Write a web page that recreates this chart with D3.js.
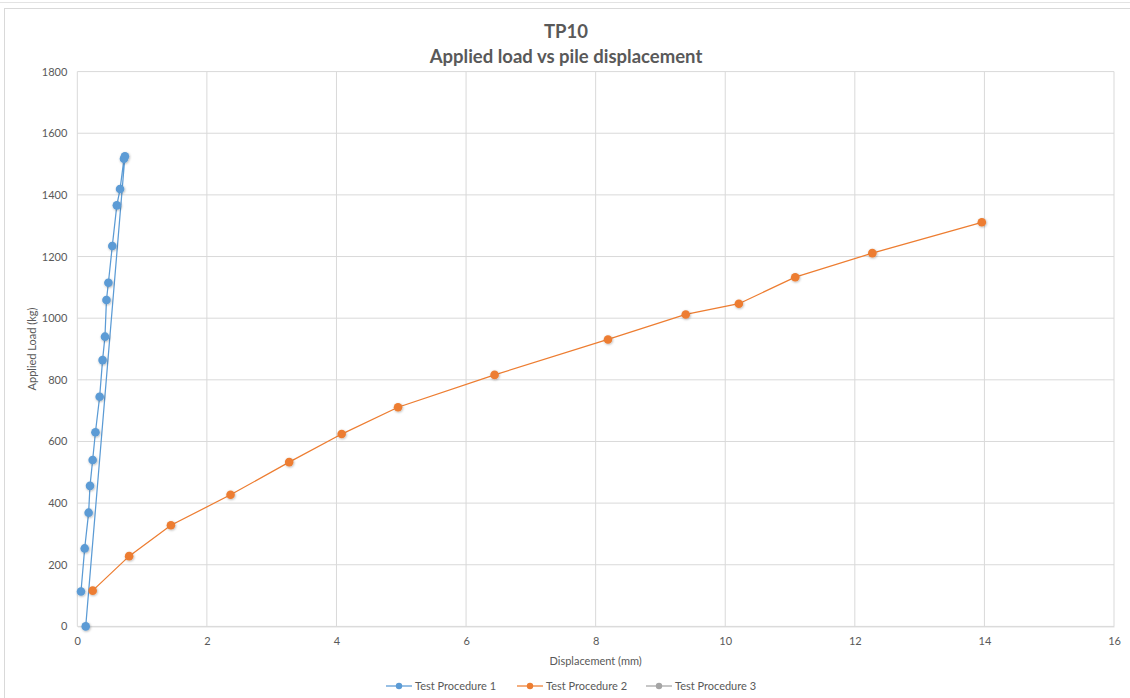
<!DOCTYPE html>
<html>
<head>
<meta charset="utf-8">
<script src="https://cdn.jsdelivr.net/npm/d3@7"></script>
<style>
  html, body { margin: 0; padding: 0; background: #fff; }
  svg { display: block; font-family: Lato, "Open Sans", sans-serif; }
</style>
</head>
<body>
<svg id="chart" width="1130" height="698"></svg>
<script>
// Test Procedure 1: loading then unloading back to zero
const tp1Disp = [0.057, 0.114, 0.175, 0.196, 0.237, 0.28, 0.345, 0.39, 0.427, 0.45, 0.48, 0.54, 0.61, 0.66, 0.72, 0.735, 0.13];
const tp1Load = [113, 253, 369, 456, 540, 630, 745, 864, 940, 1059, 1115, 1234, 1366, 1419, 1517, 1525, 0];

// Test Procedure 2
const tp2Disp = [0.237, 0.80, 1.445, 2.365, 3.27, 4.08, 4.95, 6.44, 8.19, 9.39, 10.21, 11.08, 12.27, 13.96];
const tp2Load = [116, 228, 328, 427, 533, 624, 711, 816, 931, 1012, 1047, 1133, 1211, 1311];

// Test Procedure 3 (no readings)
const tp3Disp = [];
const tp3Load = [];

const seriesNames = ["Test Procedure 1", "Test Procedure 2", "Test Procedure 3"];
const seriesColors = ["#5B9BD5", "#ED7D31", "#A5A5A5"];
const xTicks = [0, 2, 4, 6, 8, 10, 12, 14, 16];
const yTicks = [0, 200, 400, 600, 800, 1000, 1200, 1400, 1600, 1800];

const series = [
  { name: seriesNames[0], color: seriesColors[0], pts: tp1Disp.map((d, i) => [d, tp1Load[i]]) },
  { name: seriesNames[1], color: seriesColors[1], pts: tp2Disp.map((d, i) => [d, tp2Load[i]]) },
  { name: seriesNames[2], color: seriesColors[2], pts: tp3Disp.map((d, i) => [d, tp3Load[i]]) }
];

const svg = d3.select("#chart");
const textColor = "#595959";
const gridColor = "#d9d9d9";

// soft shadow under markers
const defs = svg.append("defs");
const f = defs.append("filter").attr("id", "shadow")
  .attr("x", "-50%").attr("y", "-50%").attr("width", "200%").attr("height", "200%");
f.append("feDropShadow").attr("dx", 0.6).attr("dy", 0.8)
  .attr("stdDeviation", 0.8).attr("flood-color", "#000").attr("flood-opacity", 0.3);

// outer frame
svg.append("line").attr("x1", 0).attr("x2", 1130).attr("y1", 2.5).attr("y2", 2.5)
  .attr("stroke", "#e3e3e3").attr("stroke-width", 1);
svg.append("rect").attr("x", 4.5).attr("y", 8.5).attr("width", 1130).attr("height", 700)
  .attr("fill", "#fff").attr("stroke", "#d9d9d9").attr("stroke-width", 1);

const plot = { left: 77.3, right: 1114, top: 71.6, bottom: 626.4 };
const x = d3.scaleLinear().domain([0, 16]).range([plot.left, plot.right]);
const y = d3.scaleLinear().domain([0, 1800]).range([plot.bottom, plot.top]);

// gridlines
svg.append("g").selectAll("line.h").data(yTicks).join("line")
  .attr("x1", plot.left).attr("x2", plot.right)
  .attr("y1", d => y(d)).attr("y2", d => y(d))
  .attr("stroke", gridColor).attr("stroke-width", 1);
svg.append("g").selectAll("line.v").data(xTicks).join("line")
  .attr("x1", d => x(d)).attr("x2", d => x(d))
  .attr("y1", plot.top).attr("y2", plot.bottom)
  .attr("stroke", gridColor).attr("stroke-width", 1);

// axes (labels only; lines drawn by the grid)
const xAxis = d3.axisBottom(x).tickValues(xTicks).tickSize(0).tickPadding(11).tickFormat(d3.format("d"));
const gx = svg.append("g").attr("transform", `translate(0,${plot.bottom})`).call(xAxis);
gx.select(".domain").attr("stroke", gridColor);
gx.selectAll("text").attr("fill", textColor).style("font-size", "11px").style("font-family", "Lato, sans-serif");

const yAxis = d3.axisLeft(y).tickValues(yTicks).tickSize(0).tickPadding(10).tickFormat(d3.format("d"));
const gy = svg.append("g").attr("transform", `translate(${plot.left},0)`).call(yAxis);
gy.select(".domain").remove();
gy.selectAll("text").attr("fill", textColor).style("font-size", "11px").style("font-family", "Lato, sans-serif");

// titles
svg.append("text").attr("x", 566).attr("y", 38).attr("text-anchor", "middle")
  .attr("fill", textColor).style("font-size", "18.5px").style("font-weight", "bold").text("TP10");
svg.append("text").attr("x", 566).attr("y", 63).attr("text-anchor", "middle")
  .attr("fill", textColor).style("font-size", "18.5px").style("font-weight", "bold")
  .text("Applied load vs pile displacement");

svg.append("text").attr("x", (plot.left + plot.right) / 2).attr("y", 665).attr("text-anchor", "middle")
  .attr("fill", textColor).style("font-size", "11px").text("Displacement (mm)");
svg.append("text").attr("transform", `translate(36,${(plot.top + plot.bottom) / 2}) rotate(-90)`)
  .attr("text-anchor", "middle").attr("fill", textColor).style("font-size", "11px")
  .text("Applied Load (kg)");

// series lines and markers
const line = d3.line().x(d => x(d[0])).y(d => y(d[1]));
series.forEach(s => {
  if (!s.pts.length) return;
  svg.append("path").datum(s.pts).attr("d", line)
    .attr("fill", "none").attr("stroke", s.color).attr("stroke-width", 1.25);
  svg.append("g").attr("filter", "url(#shadow)").selectAll("circle").data(s.pts).join("circle")
    .attr("cx", d => x(d[0])).attr("cy", d => y(d[1])).attr("r", 4.3)
    .attr("fill", s.color);
});

// legend
const legendX = [386, 517, 646];
const lg = svg.append("g").attr("transform", "translate(0,686)");
series.forEach((s, i) => {
  const g = lg.append("g").attr("transform", `translate(${legendX[i]},0)`);
  g.append("line").attr("x1", 0).attr("x2", 26).attr("y1", 0).attr("y2", 0)
    .attr("stroke", s.color).attr("stroke-width", 1.25);
  g.append("circle").attr("cx", 13).attr("cy", 0).attr("r", 3.2).attr("fill", s.color);
  g.append("text").attr("x", 29).attr("y", 4).attr("fill", textColor)
    .style("font-size", "11px").text(s.name);
});
</script>
</body>
</html>
